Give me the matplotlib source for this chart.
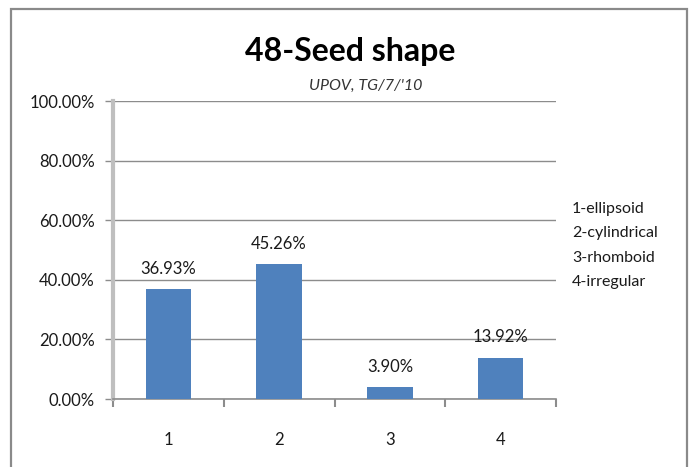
import numpy as np
import matplotlib
matplotlib.use("Agg")
import matplotlib.pyplot as plt
from matplotlib.patches import Rectangle
from matplotlib.ticker import FuncFormatter, FixedLocator

# data
categories = ["1", "2", "3", "4"]
values = [36.93, 45.26, 3.90, 13.92]
legend_lines = ["1-ellipsoid", "2-cylindrical", "3-rhomboid", "4-irregular"]

plt.rcParams["font.family"] = ["Lato", "DejaVu Sans"]

bar_color = "#4f81bd"
grid_color = "#8c8c8c"
spine_color = "#bfbfbf"
text_color = "#1a1a1a"

fig = plt.figure(figsize=(6.94, 4.67), dpi=100)
ax = fig.add_axes([113/694, 1 - 399/467, 443/694, 298/467])

x = np.arange(len(categories))
ax.bar(x, np.array(values) / 100.0, width=0.41, color=bar_color, zorder=3)

for xi, v in zip(x, values):
    ax.annotate("{:.2f}%".format(v), (xi, v / 100.0), xytext=(0, 11),
                textcoords="offset points", ha="center", va="baseline",
                fontsize=12, color=text_color)

ax.set_xlim(-0.5, len(categories) - 0.5)
ax.set_ylim(0, 1.0)
ax.set_yticks(np.arange(0, 1.01, 0.2))
ax.yaxis.set_major_formatter(FuncFormatter(lambda v, p: "{:.2f}%".format(v * 100)))
ax.yaxis.grid(True, color=grid_color, linewidth=1.0, zorder=0)

ax.set_xticks(x)
ax.set_xticklabels(categories)
ax.xaxis.set_minor_locator(FixedLocator(np.arange(-0.5, len(categories), 1.0)))
ax.tick_params(axis="x", which="major", length=0, pad=24, labelsize=12, colors=text_color)
ax.tick_params(axis="x", which="minor", length=6, width=1.5, color=grid_color, direction="out")
ax.tick_params(axis="y", length=6, width=1.0, color=grid_color, pad=7, labelsize=12, labelcolor=text_color)

for s in ["top", "right"]:
    ax.spines[s].set_visible(False)
ax.spines["left"].set_color(spine_color)
ax.spines["left"].set_linewidth(3)
ax.spines["bottom"].set_color(grid_color)
ax.spines["bottom"].set_linewidth(1.2)

fig.text(350/694, 1 - 52/467, "48-Seed shape", ha="center", va="center",
         fontsize=23, fontweight="bold", color="black")
fig.text(366/694, 1 - 86/467, "UPOV, TG/7/'10", ha="center", va="center",
         fontsize=11.5, style="italic", color="#333333")

for i, t in enumerate(legend_lines):
    fig.text(572/694, 1 - (209 + 24.3 * i)/467, t, ha="left", va="center",
             fontsize=11.5, color=text_color)

fig.patches.append(Rectangle((11/694, -0.05), 676/694, 1.05 - 9/467,
                             transform=fig.transFigure, fill=False,
                             edgecolor="#8a8a8a", linewidth=1.6))

plt.savefig("out.png", dpi=100)
